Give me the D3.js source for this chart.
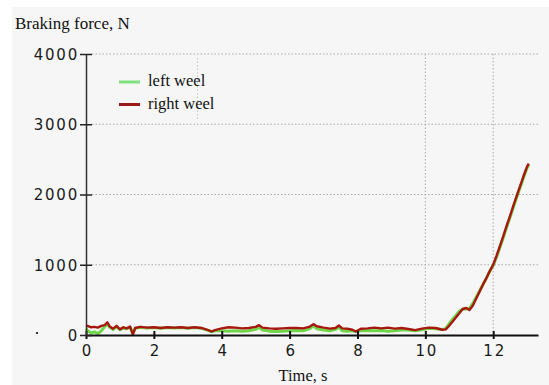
<!DOCTYPE html>
<html>
<head>
<meta charset="utf-8">
<script src="https://cdn.jsdelivr.net/npm/d3@7"></script>
<style>
  body { margin: 0; background: #fff; }
  svg { display: block; }
</style>
</head>
<body>
<svg width="549" height="385"></svg>
<script>
// time points (s), shared by both wheels
var times = [
  0, 0.05, 0.15, 0.25, 0.35, 0.45, 0.55, 0.63,
  0.7, 0.8, 0.9, 1.0, 1.1, 1.2, 1.3, 1.38, 1.45,
  1.6, 1.8, 2.0, 2.2, 2.4, 2.6, 2.8, 3.0, 3.2, 3.4,
  3.6, 3.7, 3.8, 4.0,
  4.2, 4.4, 4.6, 4.8, 5.0, 5.1, 5.2,
  5.4, 5.6, 5.8, 6.0, 6.2, 6.4, 6.6, 6.7, 6.8,
  7.0, 7.2, 7.35, 7.45, 7.55, 7.7, 7.85, 7.95,
  8.1, 8.3, 8.5, 8.7, 8.9, 9.1, 9.3, 9.5, 9.7, 9.9,
  10.1, 10.3, 10.5, 10.6, 10.7, 10.8, 10.9, 11.0,
  11.1, 11.2, 11.3, 11.4, 11.5, 11.6, 11.7, 11.8, 11.9, 12.0,
  12.1, 12.2, 12.3, 12.4, 12.5, 12.6, 12.7, 12.8, 12.9, 13.0, 13.05
];

// braking force (N), right wheel
var rightWeel = [
  120, 130, 110, 115, 105, 130, 140, 180,
  120, 90, 130, 80, 110, 95, 120, 10, 100,
  115, 105, 110, 100, 110, 105, 110, 100, 110, 100,
  70, 50, 70, 95,
  110, 105, 95, 100, 115, 140, 105,
  95, 90, 95, 100, 100, 95, 120, 155, 125,
  105, 90, 100, 135, 95, 90, 75, 50,
  90, 95, 105, 95, 105, 90, 100, 85, 70, 90,
  105, 100, 75, 80, 130, 190, 250, 310,
  370, 385, 355, 420, 520, 620, 720, 810, 910, 1000,
  1130, 1270, 1410, 1560, 1700, 1850, 1990, 2130, 2270, 2400, 2440
];

// braking force (N), left wheel
var leftWeel = [
  90, 60, 30, 45, 20, 60, 120, 150,
  110, 80, 120, 75, 100, 90, 110, 20, 95,
  110, 100, 105, 95, 105, 100, 105, 95, 105, 95,
  65, 45, 60, 60,
  55, 60, 55, 60, 80, 110, 70,
  55, 50, 55, 60, 65, 60, 90, 130, 90,
  70, 60, 80, 110, 60, 55, 60, 50,
  60, 65, 60, 65, 55, 60, 70, 70, 60, 75,
  95, 90, 80, 90, 160, 220, 280, 340,
  365, 370, 380, 450, 540, 630, 720, 810, 910, 990,
  1110, 1250, 1390, 1540, 1680, 1830, 1970, 2110, 2250, 2380, 2420
];

var xTicks = [0, 2, 4, 6, 8, 10, 12];
var yTicks = [0, 1000, 2000, 3000, 4000];
var xGrid = [10, 12];
var yGrid = [1000, 2000, 3000, 4000];

var svg = d3.select('svg');

// light grey plot background
svg.append('rect')
  .attr('x', 12).attr('y', 7)
  .attr('width', 549 - 12).attr('height', 385 - 7)
  .attr('fill', '#f6f6f6');

var x = d3.scaleLinear().domain([0, 13.32]).range([86, 538]);
var y = d3.scaleLinear().domain([0, 4000]).range([335, 54]);

// dotted grid
svg.selectAll('line.hgrid')
  .data(yGrid)
  .enter()
  .append('line')
  .attr('class', 'hgrid')
  .attr('x1', x(0) + 6).attr('x2', x(13.32))
  .attr('y1', function(d) { return y(d); })
  .attr('y2', function(d) { return y(d); })
  .attr('stroke', '#a8a8a8')
  .attr('stroke-width', 1)
  .attr('stroke-dasharray', '1.5,2');

svg.selectAll('line.vgrid')
  .data(xGrid)
  .enter()
  .append('line')
  .attr('class', 'vgrid')
  .attr('x1', function(d) { return x(d); })
  .attr('x2', function(d) { return x(d); })
  .attr('y1', y(4000)).attr('y2', y(0) - 3)
  .attr('stroke', '#a8a8a8')
  .attr('stroke-width', 1)
  .attr('stroke-dasharray', '1.5,2');

// stray faint grid remnant near the legend
svg.append('line')
  .attr('x1', 197.5).attr('x2', 197.5)
  .attr('y1', y(4000) + 4).attr('y2', y(3000) - 4)
  .attr('stroke', '#c8c8c8')
  .attr('stroke-dasharray', '1.5,2');

// data lines
var line = d3.line()
  .x(function(d) { return x(d[0]); })
  .y(function(d) { return y(d[1]); });

svg.append('path')
  .datum(d3.zip(times, leftWeel))
  .attr('fill', 'none')
  .attr('stroke', '#6fd64a')
  .attr('stroke-width', 3)
  .attr('stroke-linejoin', 'round')
  .attr('d', line);

svg.append('path')
  .datum(d3.zip(times, rightWeel))
  .attr('fill', 'none')
  .attr('stroke', '#a8170f')
  .attr('stroke-width', 2.4)
  .attr('stroke-linejoin', 'round')
  .attr('d', line);

// axes
var xAxis = d3.axisBottom(x)
  .tickValues(xTicks)
  .tickFormat(d3.format('d'))
  .tickSizeInner(4)
  .tickSizeOuter(0)
  .tickPadding(6);

var gx = svg.append('g')
  .attr('transform', 'translate(0,' + y(0) + ')')
  .call(xAxis);

var yAxis = d3.axisLeft(y)
  .tickValues(yTicks)
  .tickFormat(d3.format('d'))
  .tickSizeInner(6)
  .tickSizeOuter(0)
  .tickPadding(3);

var gy = svg.append('g')
  .attr('transform', 'translate(' + x(0) + ',0)')
  .call(yAxis);

gx.select('.domain').attr('stroke', '#111').attr('stroke-width', 2.2);
gy.select('.domain').attr('stroke', '#333').attr('stroke-width', 1.5);

// ticks cross the axis line
gx.selectAll('.tick line')
  .attr('y1', -4).attr('y2', 4)
  .attr('stroke', '#111').attr('stroke-width', 2);
gy.selectAll('.tick line')
  .attr('x1', -6).attr('x2', 6)
  .attr('stroke', '#222').attr('stroke-width', 1.5);

svg.selectAll('.tick text')
  .attr('font-family', 'DejaVu Sans, sans-serif')
  .attr('font-size', 15)
  .attr('letter-spacing', 1.8)
  .attr('fill', '#1a1a1a');
gx.selectAll('.tick text').attr('dy', '0.71em').attr('y', 10).attr('dx', 1);
gy.selectAll('.tick text').attr('x', -7).attr('dy', '0.36em');

// titles
svg.append('text')
  .attr('x', 15).attr('y', 29)
  .attr('font-family', 'Liberation Serif, Times New Roman, serif')
  .attr('font-size', 17)
  .attr('fill', '#111')
  .text('Braking force, N');

svg.append('text')
  .attr('x', 303).attr('y', 381)
  .attr('text-anchor', 'middle')
  .attr('font-family', 'Liberation Serif, Times New Roman, serif')
  .attr('font-size', 16.5)
  .attr('fill', '#111')
  .text('Time, s');

// legend
var legendNames = ['left weel', 'right weel'];
var legendColors = ['#7ee27e', '#9c1a1a'];

var legend = svg.selectAll('g.legend')
  .data(legendNames)
  .enter()
  .append('g')
  .attr('class', 'legend')
  .attr('transform', function(d, i) { return 'translate(119,' + (82 + i * 22.5) + ')'; });

legend.append('line')
  .attr('x1', 0).attr('x2', 21)
  .attr('stroke', function(d, i) { return legendColors[i]; })
  .attr('stroke-width', 3);

legend.append('text')
  .attr('x', 29).attr('y', 4)
  .attr('font-family', 'Liberation Serif, Times New Roman, serif')
  .attr('font-size', 16.5)
  .attr('fill', '#111')
  .text(function(d) { return d; });

// small stray dot left of the origin
svg.append('rect')
  .attr('x', 36).attr('y', 332).attr('width', 2).attr('height', 2)
  .attr('fill', '#333');
</script>
</body>
</html>
